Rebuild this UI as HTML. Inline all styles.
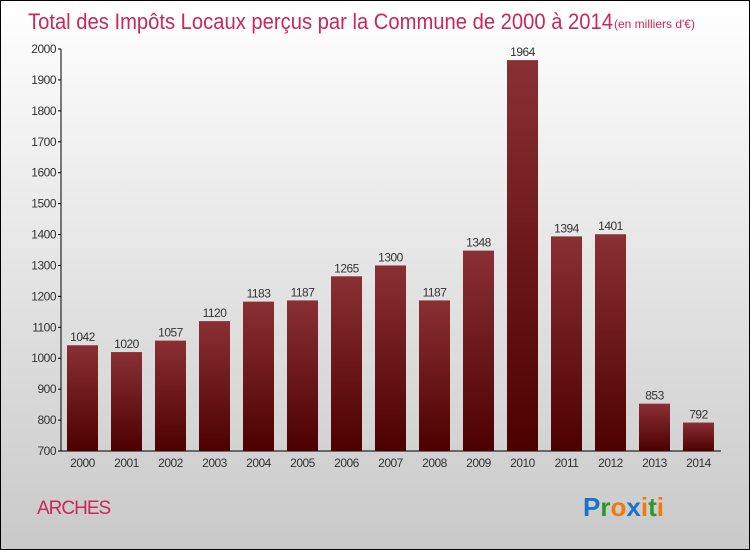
<!DOCTYPE html>
<html><head><meta charset="utf-8"><style>
body{margin:0}
#wrap{position:relative;width:748px;height:548px;border:1px solid #000;background:linear-gradient(#fff,#f4f4f4 20%,#c9c9c9);font-family:"Liberation Sans",sans-serif;overflow:hidden}
</style></head><body>
<div id="wrap">
<svg id="c" width="748" height="548">
<defs><linearGradient id="g" x1="0" y1="0" x2="0" y2="1"><stop offset="0" stop-color="#8a3034"/><stop offset="1" stop-color="#4d0000"/></linearGradient></defs>
<text x="27" y="28" font-size="22" fill="#c8285a" textLength="585" lengthAdjust="spacingAndGlyphs">Total des Impôts Locaux perçus par la Commune de 2000 à 2014</text>
<text x="613" y="27" font-size="12" fill="#c8285a">(en milliers d'€)</text>
<text x="36" y="513" font-size="19" fill="#c8285a" letter-spacing="-1">ARCHES</text>
<g font-size="26" font-weight="bold" font-family="Liberation Sans, sans-serif">
<text x="582" y="515"><tspan fill="#1a73c8">P</tspan><tspan fill="#2a9a2a">r</tspan><tspan fill="#f07a10">o</tspan><tspan fill="#1a73c8">x</tspan><tspan fill="#f07a10">i</tspan><tspan fill="#2a9a2a">t</tspan><tspan fill="#f07a10">i</tspan></text></g>
</svg>
</div>
<script>
const years=["2000","2001","2002","2003","2004","2005","2006","2007","2008","2009","2010","2011","2012","2013","2014"];
const values=[1042,1020,1057,1120,1183,1187,1265,1300,1187,1348,1964,1394,1401,853,792];
const yTicks=[700,800,900,1000,1100,1200,1300,1400,1500,1600,1700,1800,1900,2000];
const svg=document.getElementById('c'),NS="http://www.w3.org/2000/svg";
const y=v=>450-(v-700)*(450-48)/1300;
const x=i=>66+i*44;
function mk(t,a,p){const e=document.createElementNS(NS,t);for(const k in a)e.setAttribute(k,a[k]);(p||svg).appendChild(e);return e;}
mk('line',{x1:60,y1:48,x2:60,y2:450,stroke:'#000'});
mk('line',{x1:60,y1:450,x2:720,y2:450,stroke:'#000'});
yTicks.forEach(v=>{
 mk('line',{x1:57,y1:y(v),x2:60,y2:y(v),stroke:'#000'});
 const t=mk('text',{x:55,y:y(v)+4,'font-size':12,'text-anchor':'end',fill:'#333','letter-spacing':'-0.5'});t.textContent=v;
 
 
});
values.forEach((v,i)=>{
 const r=mk('rect',{x:x(i),y:y(v),width:31,height:450-y(v),fill:'url(#g)'});
 
 
 const t=mk('text',{x:x(i)+15.5,y:y(v)-4,'font-size':12,'text-anchor':'middle',fill:'#333','letter-spacing':'-0.5'});t.textContent=v;
 
 
 const l=mk('text',{x:x(i)+15.5,y:466,'font-size':12,'text-anchor':'middle',fill:'#333','letter-spacing':'-0.5'});l.textContent=years[i];
 
 
});
</script>
</body></html>
